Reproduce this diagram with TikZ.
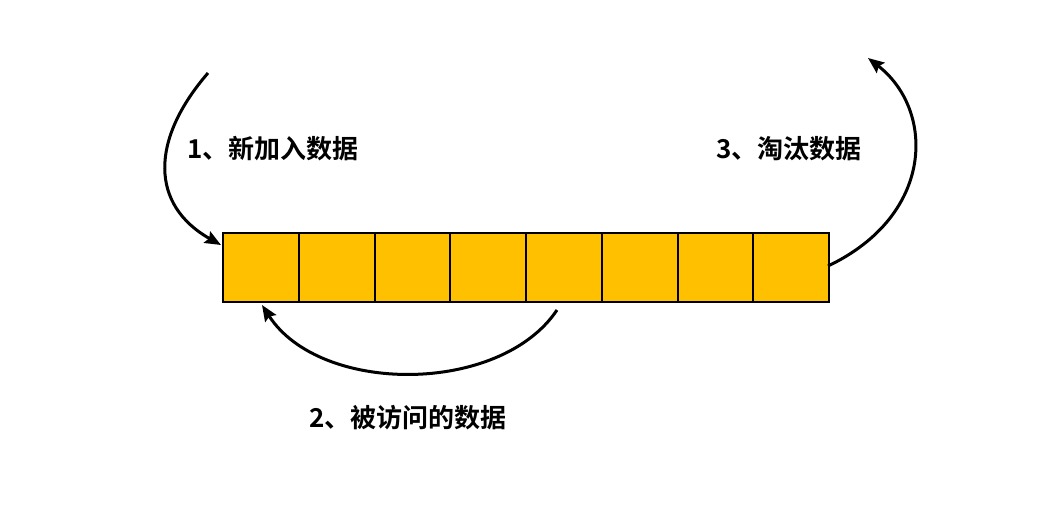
\documentclass[tikz,border=0pt]{standalone}
\usepackage{fontspec}
\newfontfamily\cjk{Noto Sans CJK SC}[BoldFont={Noto Sans CJK SC Bold}]
\usetikzlibrary{arrows.meta}
\begin{document}
\begin{tikzpicture}[x=1pt,y=-1pt,
  cell/.style={draw=black,line width=2pt,fill=cellfill,minimum width=75.75pt,minimum height=69pt,inner sep=0pt,anchor=north west},
  flow/.style={line width=3pt,-{Stealth[length=16pt,width=13pt,inset=2.5pt]}},
  lbl/.style={font=\cjk\bfseries\fontsize{26pt}{30pt}\selectfont,inner sep=0pt}]
\definecolor{cellfill}{HTML}{FFC000}
\useasboundingbox (0,0) rectangle (1045,507);
\foreach \i in {0,...,7} {
  \node[cell] (c\i) at ({222+75.75*\i},232) {};
}
\coordinate (s1) at (208,73);
\coordinate (e1) at (221,245);
\coordinate (s2) at (557,310);
\coordinate (e2) at (262,305);
\coordinate (s3) at (828,266);
\coordinate (e3) at (868,58);
\draw[flow] (s1) .. controls (150,140) and (150,205) .. (e1);
\draw[flow] (s2) .. controls (500,395) and (320,395) .. (e2);
\draw[flow] (s3) .. controls (935,215) and (935,110) .. (e3);
\node[lbl,anchor=west] (t1) at (187,149) {1、新加入数据};
\node[lbl,anchor=west] (t2) at (309,418) {2、被访问的数据};
\node[lbl,anchor=west] (t3) at (716,149) {3、淘汰数据};
\end{tikzpicture}
\end{document}
